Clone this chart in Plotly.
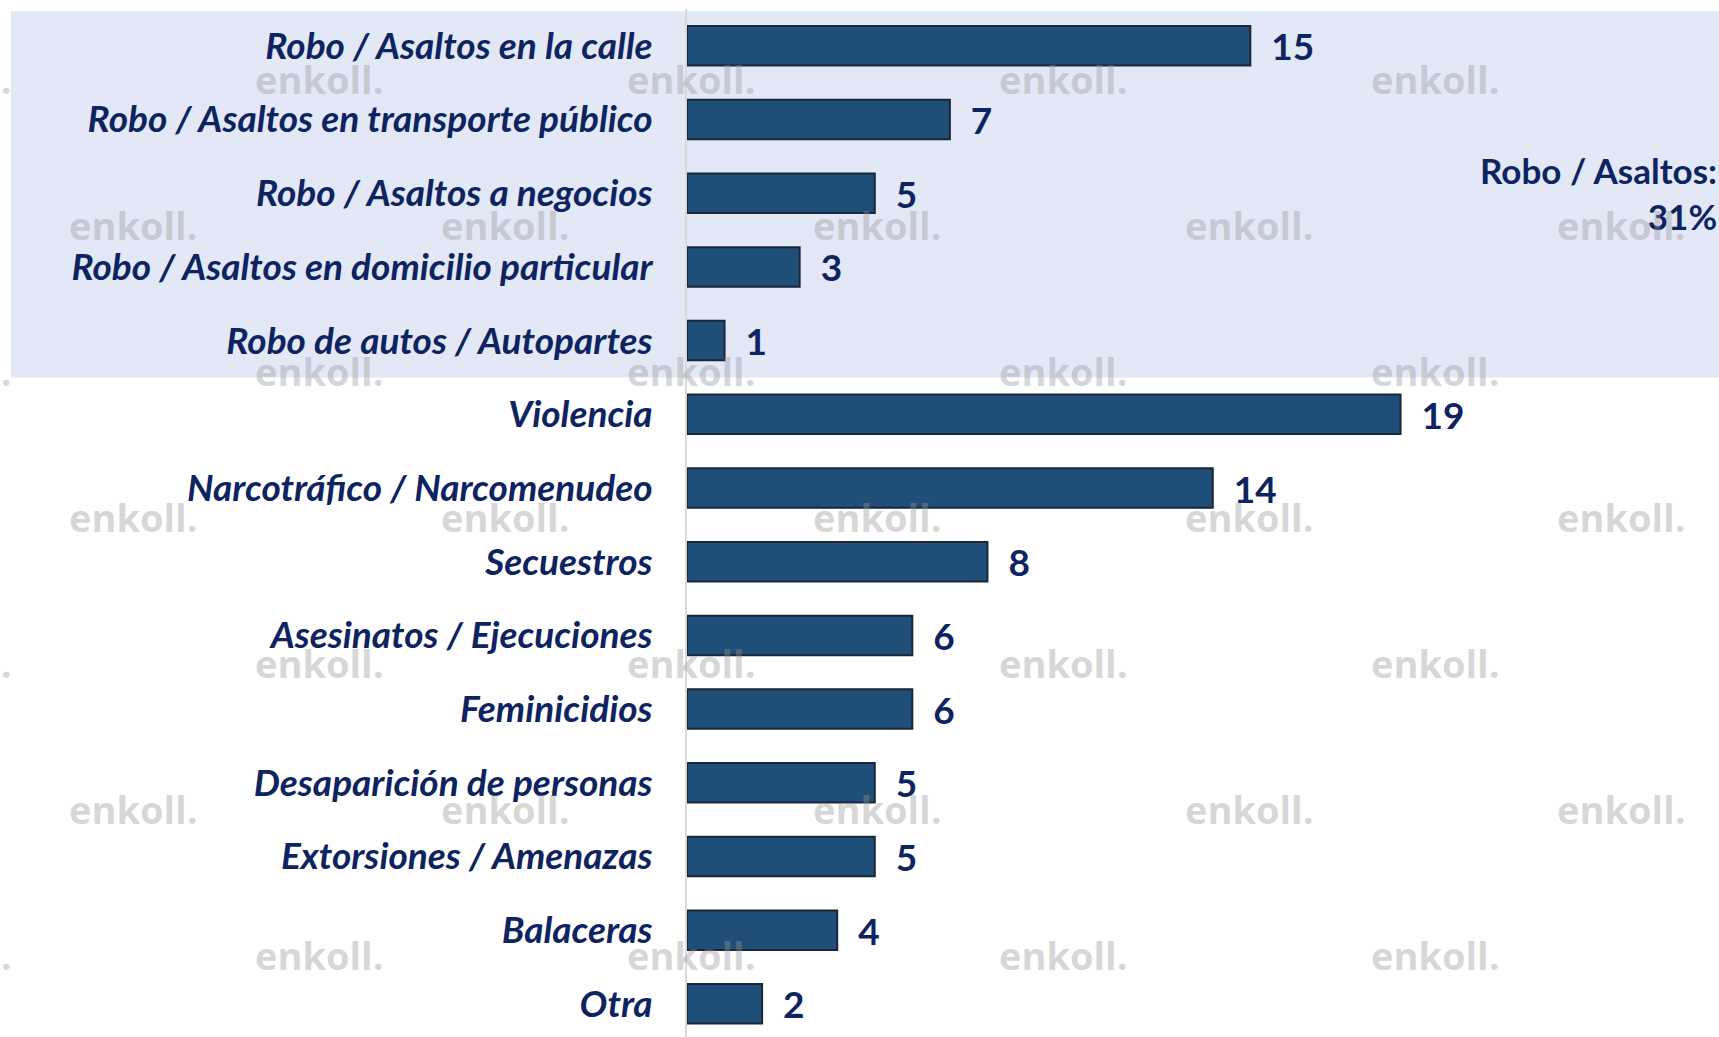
import plotly.graph_objects as go

categories = [
    "Robo / Asaltos en la calle",
    "Robo / Asaltos en transporte público",
    "Robo / Asaltos a negocios",
    "Robo / Asaltos en domicilio particular",
    "Robo de autos / Autopartes",
    "Violencia",
    "Narcotráfico / Narcomenudeo",
    "Secuestros",
    "Asesinatos / Ejecuciones",
    "Feminicidios",
    "Desaparición de personas",
    "Extorsiones / Amenazas",
    "Balaceras",
    "Otra",
]
values = [15, 7, 5, 3, 1, 19, 14, 8, 6, 6, 5, 5, 4, 2]
group_note = "Robo / Asaltos:<br>31%"
n_group = 5  # first five categories form the "Robo / Asaltos" group

W, H = 1719, 1037
ML, MR, MT, MB = 687, 0, 9, 0
NAVY = "#0E2461"
BAR = "#1F4E79"
FONT = "Lato"
FS = 37

y_top, y_bot = -0.5, 13.45
x_max = 27.48

def ypaper(v):
    return (y_bot - v) / (y_bot - y_top)

fig = go.Figure()
fig.add_trace(go.Bar(
    y=categories, x=values, orientation="h",
    marker=dict(color=BAR, line=dict(color="#1B2638", width=2)),
    text=values, texttemplate="  %{x}", textposition="outside",
    constraintext="none", cliponaxis=False,
    textfont=dict(family=FONT, size=FS, color=NAVY, weight="bold"),
    hoverinfo="skip",
))

# shaded band behind the Robo / Asaltos group
fig.add_shape(type="rect", xref="paper", yref="paper",
              x0=(11 - ML) / (W - ML - MR), x1=1.0,
              y0=ypaper(n_group - 0.5), y1=ypaper(-0.47),
              fillcolor="#E3E8F6", line=dict(width=0), layer="below")

fig.add_annotation(x=1.0, xref="paper", y=2, yref="y",
                   text=group_note, showarrow=False, xanchor="right",
                   yanchor="middle", align="right",
                   font=dict(family=FONT, size=35, color=NAVY, weight="bold"))

# watermark
pw = W - ML - MR
ph = H - MT - MB
row_y = [79 + 146 * i for i in range(7)]
for i, py in enumerate(row_y):
    start = 67 + (186 if i % 2 == 0 else 0) - 372
    px = start
    while px < W:
        fig.add_annotation(x=(px - ML) / pw, xref="paper",
                           y=1 - (py - MT) / ph, yref="paper",
                           text="enkoll.", showarrow=False,
                           xanchor="left", yanchor="middle",
                           font=dict(family="Open Sans", size=38,
                                     color="rgba(150,150,150,0.38)",
                                     weight="bold"))
        px += 372

fig.update_layout(
    width=W, height=H,
    margin=dict(l=ML, r=MR, t=MT, b=MB),
    paper_bgcolor="white", plot_bgcolor="rgba(0,0,0,0)",
    bargap=0.464, showlegend=False,
    xaxis=dict(range=[0, x_max], visible=False),
    yaxis=dict(range=[y_bot, y_top], showline=True, linecolor="#D9D9D9",
               linewidth=2, showgrid=False, zeroline=False, ticks="",
               ticklabelstandoff=25,
               tickfont=dict(family=FONT, size=FS, color=NAVY,
                             weight="bold", style="italic")),
)

fig.write_html("out.html", config={"displayModeBar": False},
               post_script="document.body.style.margin='0';document.body.style.overflow='hidden';")
